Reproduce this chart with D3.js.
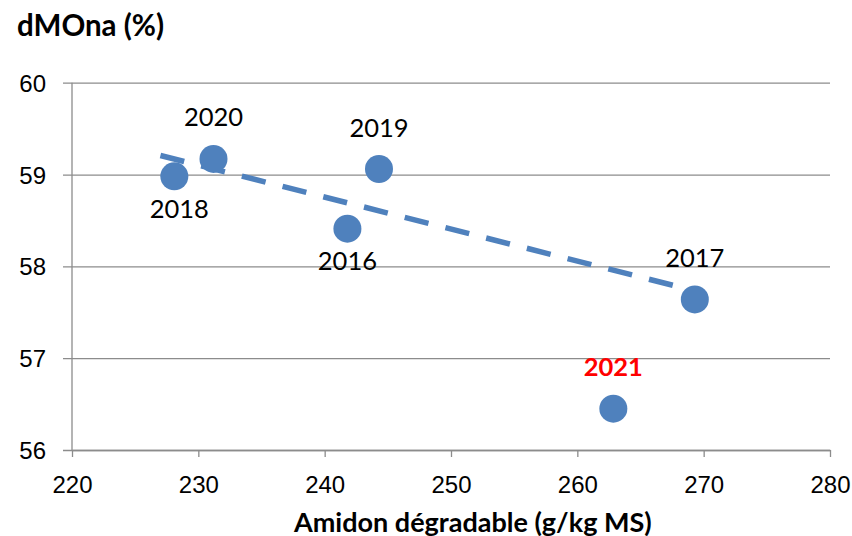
<!DOCTYPE html>
<html>
<head>
<meta charset="utf-8">
<script src="https://cdn.jsdelivr.net/npm/d3@7"></script>
<style>
  html, body { margin: 0; padding: 0; background: #fff; }
  svg { display: block; font-family: Lato, "Open Sans", sans-serif; }
</style>
</head>
<body>
<svg id="chart" width="852" height="536"></svg>
<script>
// ---- data ----
const years      = ["2016", "2017", "2018", "2019", "2020", "2021"];
const amidon     = [241.8, 269.3, 228.1, 244.3, 231.2, 262.85];
const dmona      = [58.41, 57.64, 58.98, 59.06, 59.17, 56.45];
const inTrend    = [true, true, true, true, true, false];   // 2021 excluded from trend
const xTicks     = [220, 230, 240, 250, 260, 270, 280];
const yTicks     = [56, 57, 58, 59, 60];
const trendRange = [227.0, 269.3];
const yTitle     = "dMOna (%)";
const xTitle     = "Amidon dégradable (g/kg MS)";

// ---- label styling (not data) ----
const labelStyle = {
  "2016": { place: "below", dx: 0 },
  "2017": { place: "above", dx: 0 },
  "2018": { place: "below", dx: 5 },
  "2019": { place: "above", dx: 0 },
  "2020": { place: "above", dx: 0 },
  "2021": { place: "above", dx: 0, color: "#FF0000", weight: "bold" }
};

const points = years.map((y, i) => ({ year: y, x: amidon[i], y: dmona[i], trend: inTrend[i] }));

const svg = d3.select("#chart");
const blue = "#4F81BD";
const grid = "#8C8C8C";

const x = d3.scaleLinear().domain([220, 280]).range([72, 830]);
const y = d3.scaleLinear().domain([56, 60]).range([450, 82.7]);

// gridlines + y ticks
const yAxis = d3.axisLeft(y).tickValues(yTicks).tickSize(-(830 - 63)).tickPadding(17).tickFormat(d3.format("d"));
const gy = svg.append("g").attr("transform", "translate(63,0)").call(yAxis);
gy.select(".domain").remove();
gy.selectAll(".tick line").attr("stroke", grid).attr("stroke-width", 1.3);
gy.selectAll(".tick text").attr("font-size", 24).attr("fill", "#000").attr("x", -17).attr("dy", "0.36em");

// y axis line
svg.append("line").attr("x1", 72).attr("x2", 72).attr("y1", y(60)).attr("y2", y(56))
  .attr("stroke", grid).attr("stroke-width", 1.3);

// x axis
const xAxis = d3.axisBottom(x).tickValues(xTicks).tickSize(7).tickPadding(0).tickSizeOuter(0).tickFormat(d3.format("d"));
const gx = svg.append("g").attr("transform", `translate(0,${y(56)})`).call(xAxis);
gx.select(".domain").attr("stroke", grid).attr("stroke-width", 1.3);
gx.selectAll(".tick line").attr("stroke", grid).attr("stroke-width", 1.3);
gx.selectAll(".tick text").attr("font-size", 24).attr("fill", "#000").attr("y", 43).attr("dy", 0);

// linear regression on the trend subset
const tp = points.filter(p => p.trend);
const mx = d3.mean(tp, p => p.x), my = d3.mean(tp, p => p.y);
const slope = d3.sum(tp, p => (p.x - mx) * (p.y - my)) / d3.sum(tp, p => (p.x - mx) ** 2);
const icpt = my - slope * mx;
svg.append("line")
  .attr("x1", x(trendRange[0])).attr("y1", y(icpt + slope * trendRange[0]))
  .attr("x2", x(trendRange[1])).attr("y2", y(icpt + slope * trendRange[1]))
  .attr("stroke", blue).attr("stroke-width", 5.5).attr("stroke-dasharray", "24.5,17.5");

// points
svg.append("g").selectAll("circle").data(points).join("circle")
  .attr("cx", d => x(d.x)).attr("cy", d => y(d.y)).attr("r", 14)
  .attr("fill", blue);

// data labels
svg.append("g").selectAll("text").data(points).join("text")
  .attr("x", d => x(d.x) + labelStyle[d.year].dx)
  .attr("y", d => y(d.y) + (labelStyle[d.year].place === "above" ? -32.5 : 41.5))
  .attr("text-anchor", "middle")
  .attr("font-size", 25.5)
  .attr("font-weight", d => labelStyle[d.year].weight || "normal")
  .attr("fill", d => labelStyle[d.year].color || "#000")
  .text(d => d.year);

// titles
svg.append("text").attr("x", 17).attr("y", 36).attr("font-size", 29.5).attr("font-weight", "bold")
  .attr("fill", "#000").text(yTitle);
svg.append("text").attr("x", (290.7 + 655) / 2).attr("y", 531.5).attr("text-anchor", "middle")
  .attr("font-size", 27).attr("font-weight", "bold").attr("fill", "#000").text(xTitle);
</script>
</body>
</html>
